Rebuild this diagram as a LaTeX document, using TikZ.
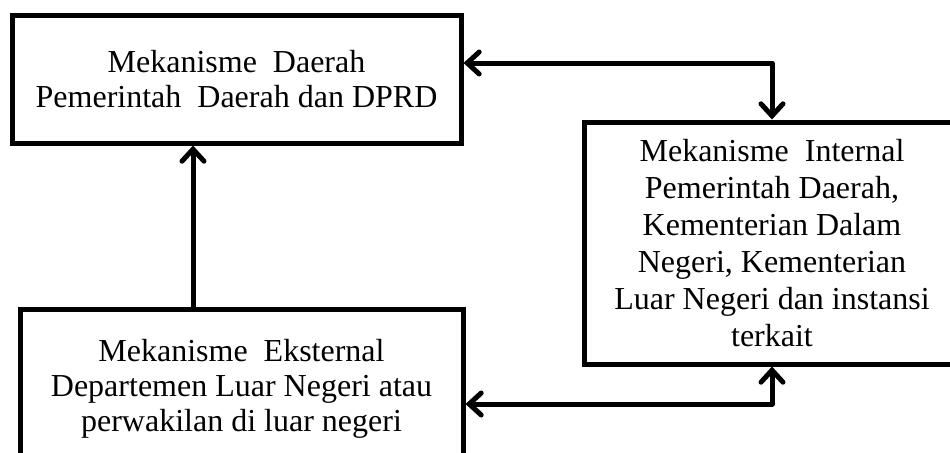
\documentclass[tikz,border=0pt]{standalone}
\usepackage{fontspec}
\setmainfont{Liberation Serif}
\usetikzlibrary{arrows.meta}

\begin{document}
\begin{tikzpicture}[x=0.5pt, y=-0.5pt,
        kotak/.style={draw=black, line width=2.5pt, align=center, inner sep=0pt,
            font=\fontsize{16}{17.5}\selectfont},
        panah/.style={line width=2.5pt, line cap=round, line join=round,
            {Straight Barb[length=6pt, width=11pt, line cap=round]}-{Straight Barb[length=6pt, width=11pt, line cap=round]}}]
        \useasboundingbox (0,0) rectangle (950,452);
        \clip (0,0) rectangle (950,452);

        \node[kotak, minimum width=449*0.5pt, minimum height=128*0.5pt] (daerah) at (236.5,79)
            {Mekanisme\ \ Daerah\\Pemerintah\ \ Daerah\ dan\ DPRD};
        \node[kotak, minimum width=376*0.5pt, minimum height=242*0.5pt,
            font=\fontsize{16}{18.5}\selectfont] (internal) at (772,243)
            {Mekanisme\ \ Internal\\Pemerintah Daerah,\\Kementerian Dalam\\Negeri, Kementerian\\Luar Negeri dan instansi\\terkait};
        \node[kotak, minimum width=443*0.5pt, minimum height=160*0.5pt] (eksternal) at (241.5,389)
            {Mekanisme\ \ Eksternal\\Departemen Luar Negeri atau\\perwakilan di luar negeri};

        \coordinate (atas) at (0,63);
        \coordinate (bawah) at (0,404);
        \coordinate (kiri) at (193,0);

        \draw[panah] (daerah.east |- atas) -| (internal.north);
        \draw[panah] (eksternal.east |- bawah) -| (internal.south);
        \draw[line width=2.5pt, -{Straight Barb[length=6pt, width=11pt, line cap=round]}]
            (eksternal.north -| kiri) -- (daerah.south -| kiri);
    \end{tikzpicture}
\end{document}
